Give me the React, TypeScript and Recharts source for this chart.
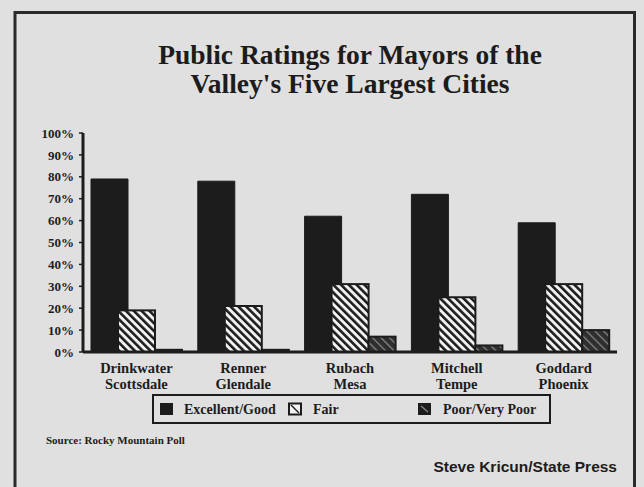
import React from 'react'
import { BarChart, Bar, XAxis, YAxis } from 'recharts'

// ── Data ─────────────────────────────────────────────────────────────
const mayors = ['Drinkwater', 'Renner', 'Rubach', 'Mitchell', 'Goddard']
const cities = ['Scottsdale', 'Glendale', 'Mesa', 'Tempe', 'Phoenix']
const excellentGood = [79, 78, 62, 72, 59]
const fair = [19, 21, 31, 25, 31]
const poorVeryPoor = [1, 1, 7, 3, 10]
const yTicks = [0, 10, 20, 30, 40, 50, 60, 70, 80, 90, 100]

const chartData = mayors.map((mayor, i) => ({
  mayor,
  city: cities[i],
  excellentGood: excellentGood[i],
  fair: fair[i],
  poorVeryPoor: poorVeryPoor[i],
}))

// ── Styles ───────────────────────────────────────────────────────────
const PAPER = '#e0e0e0'
const INK = '#1c1c1c'
const SERIF = '"Liberation Serif", "Times New Roman", serif'
const SANS = '"Liberation Sans", Arial, sans-serif'

function MayorTick({ x, y, payload }: any) {
  const idx = mayors.indexOf(payload.value)
  return (
    <text
      x={x}
      y={y}
      textAnchor="middle"
      fill={INK}
      fontFamily={SERIF}
      fontWeight="bold"
      fontSize={14.5}
    >
      <tspan x={x} y={y + 21}>{payload.value}</tspan>
      <tspan x={x} y={y + 37}>{cities[idx]}</tspan>
    </text>
  )
}

// fair bar stays at its slot, poor bar starts where fair ends
function FairShape(props: any) {
  const { x, y, width, height } = props
  if (!height) return null
  return (
    <rect x={x} y={y} width={width} height={height}
      fill="url(#fairHatch)" stroke={INK} strokeWidth={2} />
  )
}

function PoorShape(props: any) {
  const { x, y, width, height } = props
  if (!height) return null
  return (
    <rect x={x + 10} y={y} width={width - 10} height={height}
      fill="url(#poorHatch)" stroke={INK} strokeWidth={2} />
  )
}

export default function App() {
  return (
    <div style={{
      position: 'fixed',
      left: 0,
      top: 0,
      width: 644,
      height: 487,
      background: PAPER,
      overflow: 'hidden',
    }}>
      <div style={{ position: 'absolute', left: 0, top: 0 }}>
        <BarChart
          width={644}
          height={487}
          data={chartData}
          margin={{ top: 133, right: 27, bottom: 85, left: 13 }}
          barSize={37}
          barGap={-10}
        >
          <defs>
            <pattern id="fairHatch" patternUnits="userSpaceOnUse" width={5.5} height={5.5}
              patternTransform="rotate(-45)">
              <rect x={0} y={0} width={5.5} height={5.5} fill="#f2f2f2" />
              <rect x={0} y={0} width={2.6} height={5.5} fill={INK} />
            </pattern>
            <pattern id="poorHatch" patternUnits="userSpaceOnUse" width={6} height={6}
              patternTransform="rotate(-45)">
              <rect x={0} y={0} width={6} height={6} fill="#2e2e2e" />
              <rect x={0} y={0} width={1.2} height={6} fill="#8a8a8a" />
            </pattern>
          </defs>
          <XAxis
            dataKey="mayor"
            height={50}
            axisLine={{ stroke: INK, strokeWidth: 3 }}
            tickLine={false}
            tickSize={0}
            tickMargin={0}
            interval={0}
            tick={<MayorTick />}
          />
          <YAxis
            width={70}
            domain={[0, 100]}
            ticks={yTicks}
            interval={0}
            tickFormatter={(v: number) => `${v}%`}
            axisLine={{ stroke: INK, strokeWidth: 3 }}
            tickLine={{ stroke: INK, strokeWidth: 1.5 }}
            tickSize={4}
            tickMargin={5}
            tick={{ fill: INK, fontFamily: SERIF, fontWeight: 'bold', fontSize: 13 }}
          />
          <Bar dataKey="excellentGood" name="Excellent/Good" fill={INK} stroke={INK}
            strokeWidth={1} isAnimationActive={false} />
          <Bar dataKey="fair" name="Fair" shape={<FairShape />} isAnimationActive={false} />
          <Bar dataKey="poorVeryPoor" name="Poor/Very Poor" shape={<PoorShape />}
            isAnimationActive={false} />
        </BarChart>
      </div>

      {/* Title, legend, credits and frame */}
      <svg width={644} height={487} style={{ position: 'absolute', left: 0, top: 0, pointerEvents: 'none' }}>
        <path d="M15,490 L15,12.5 L634.5,12.5 L634.5,490" fill="none" stroke="#2a2a2a" strokeWidth={3} />

        <g fontFamily={SERIF} fontWeight="bold" fill={INK}>
          <text x={350} y={64} textAnchor="middle" fontSize={27.5}>Public Ratings for Mayors of the</text>
          <text x={350} y={93} textAnchor="middle" fontSize={27.5}>Valley's Five Largest Cities</text>
        </g>

        {/* Legend */}
        <rect x={153} y={395} width={397} height={28} fill="none" stroke={INK} strokeWidth={2} />
        <rect x={160} y={403} width={13} height={12} fill={INK} />
        <rect x={289} y={403.5} width={12} height={11} fill="#f2f2f2" stroke={INK} strokeWidth={2} />
        <line x1={291} y1={405} x2={299} y2={413} stroke={INK} strokeWidth={1.5} />
        <rect x={418} y={403} width={13} height={12} fill={INK} />
        <line x1={421} y1={406} x2={428} y2={412} stroke="#8a8a8a" strokeWidth={1.2} />
        <g fontFamily={SERIF} fontWeight="bold" fontSize={14} fill={INK}>
          <text x={184} y={414}>Excellent/Good</text>
          <text x={313} y={414}>Fair</text>
          <text x={443} y={414}>Poor/Very Poor</text>
        </g>

        <text x={46} y={444} fontFamily={SERIF} fontWeight="bold" fontSize={11} fill={INK}>
          Source: Rocky Mountain Poll
        </text>
        <text x={617} y={472} textAnchor="end" fontFamily={SANS} fontWeight="bold" fontSize={15.5} fill={INK}>
          Steve Kricun/State Press
        </text>
      </svg>
    </div>
  )
}
